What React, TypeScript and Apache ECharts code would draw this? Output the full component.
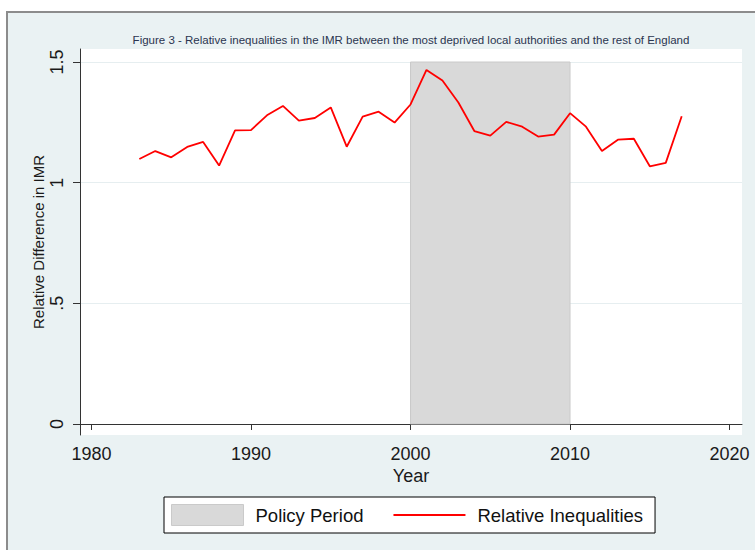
import React, { useEffect, useRef } from "react";
import * as echarts from "echarts";

const years = [
  1983, 1984, 1985, 1986, 1987, 1988, 1989, 1990, 1991, 1992, 1993, 1994,
  1995, 1996, 1997, 1998, 1999, 2000, 2001, 2002, 2003, 2004, 2005, 2006,
  2007, 2008, 2009, 2010, 2011, 2012, 2013, 2014, 2015, 2016, 2017,
];
const relativeInequalities = [
  1.098, 1.131, 1.105, 1.148, 1.169, 1.071, 1.217, 1.218, 1.279, 1.318, 1.257,
  1.268, 1.312, 1.149, 1.274, 1.294, 1.249, 1.324, 1.467, 1.423, 1.332, 1.214,
  1.195, 1.252, 1.232, 1.191, 1.199, 1.288, 1.232, 1.131, 1.178, 1.182, 1.068,
  1.082, 1.275,
];
const xTickValues = [1980, 1990, 2000, 2010, 2020];
const yTickValues = [0, 0.5, 1, 1.5];
const yTickLabels = ["0", ".5", "1", "1.5"];
const policyPeriod = [2000, 2010];
const policyRange = [0, 1.5];
const titleText =
  "Figure 3 - Relative inequalities in the IMR between the most deprived local authorities and the rest of England";
const seriesNames = ["Policy Period", "Relative Inequalities"];

export default function App() {
  const ref = useRef<HTMLDivElement>(null);
  useEffect(() => {
    if (!ref.current) return;
    const chart = echarts.init(ref.current, null, { renderer: "svg" });
    const font = "'Liberation Sans', Arial, Helvetica, sans-serif";
    const axisColor = "#333333";
    chart.setOption({
      animation: false,
      backgroundColor: "#ffffff",
      graphic: [
        {
          type: "rect",
          z: -10,
          silent: true,
          shape: { x: 7, y: 12, width: 800, height: 600 },
          style: { fill: "#eaf2f3", stroke: "#8c8c8c", lineWidth: 2 },
        },
        {
          type: "text",
          x: 411,
          y: 40,
          style: {
            text: titleText,
            fontFamily: font,
            fontSize: 11.5,
            fill: "#2b3550",
            align: "center",
            verticalAlign: "middle",
          },
        },
      ],
      grid: {
        left: 80,
        right: 13,
        top: 49,
        bottom: 115,
        show: true,
        backgroundColor: "#ffffff",
        borderWidth: 0,
      },
      xAxis: {
        type: "value",
        min: 1979.28,
        max: 2020.78,
        name: "Year",
        nameLocation: "middle",
        nameGap: 32,
        nameMoveOverlap: false,
        nameTextStyle: { fontFamily: font, fontSize: 18, color: "#1a1a1a" },
        axisLine: { show: true, lineStyle: { color: axisColor, width: 1 } },
        axisTick: {
          show: true,
          customValues: xTickValues,
          length: 6,
          lineStyle: { color: axisColor },
        },
        axisLabel: {
          customValues: xTickValues,
          fontFamily: font,
          fontSize: 18,
          color: "#1a1a1a",
          margin: 10,
          formatter: (v: number) => String(Math.round(v)),
        },
        splitLine: { show: false },
      },
      yAxis: {
        type: "value",
        min: -0.0456,
        max: 1.5539,
        name: "Relative Difference in IMR",
        nameLocation: "middle",
        nameGap: 34,
        nameRotate: 90,
        nameMoveOverlap: false,
        nameTextStyle: { fontFamily: font, fontSize: 15, color: "#1a1a1a" },
        axisLine: { show: true, lineStyle: { color: axisColor, width: 1 } },
        axisTick: {
          show: true,
          customValues: yTickValues,
          length: 7,
          lineStyle: { color: axisColor },
        },
        axisLabel: {
          customValues: yTickValues,
          rotate: 90,
          fontFamily: font,
          fontSize: 18,
          color: "#1a1a1a",
          margin: 14,
          formatter: (v: number) => {
            const i = yTickValues.findIndex((t) => Math.abs(t - v) < 1e-6);
            return i >= 0 ? yTickLabels[i] : String(v);
          },
        },
        splitLine: { show: true, lineStyle: { color: "#e6eef0", width: 1 } },
      },
      legend: {
        left: 164,
        top: 497,
        orient: "horizontal",
        padding: [7, 12, 7, 7],
        itemWidth: 72,
        itemHeight: 21,
        itemGap: 29,
        borderColor: "#000000",
        borderWidth: 1,
        backgroundColor: "#ffffff",
        textStyle: {
          fontFamily: font,
          fontSize: 18.5,
          color: "#111111",
          padding: [0, 0, 0, 7],
        },
        data: [
          {
            name: seriesNames[0],
            icon: "rect",
            itemStyle: { color: "#d9d9d9", borderColor: "#cacaca", borderWidth: 1 },
          },
          {
            name: seriesNames[1],
            itemStyle: { opacity: 0 },
            lineStyle: { color: "#ff0000", width: 2, opacity: 1 },
          },
        ],
      },
      series: [
        {
          name: seriesNames[0],
          type: "custom",
          z: 1,
          itemStyle: { color: "#d9d9d9" },
          data: [[policyPeriod[0], policyPeriod[1], policyRange[0], policyRange[1]]],
          encode: { x: [0, 1], y: [2, 3] },
          renderItem: (params: any, api: any) => {
            const tl = api.coord([api.value(0), api.value(3)]);
            const br = api.coord([api.value(1), api.value(2)]);
            return {
              type: "rect",
              shape: { x: tl[0], y: tl[1], width: br[0] - tl[0], height: br[1] - tl[1] },
              style: { fill: "#d9d9d9", stroke: "#cacaca", lineWidth: 1 },
            };
          },
        },
        {
          name: seriesNames[1],
          type: "line",
          z: 3,
          symbol: "none",
          color: "#ff0000",
          lineStyle: { color: "#ff0000", width: 1.8 },
          data: years.map((y, i) => [y, relativeInequalities[i]]),
        },
      ],
    });
    return () => chart.dispose();
  }, []);
  return (
    <div
      ref={ref}
      style={{ position: "fixed", left: 0, top: 0, width: 755, height: 550 }}
    />
  );
}
